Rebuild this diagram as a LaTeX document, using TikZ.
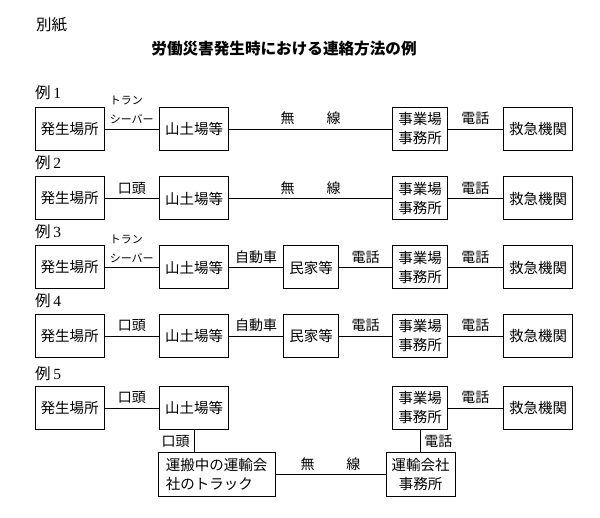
\documentclass[tikz,border=0pt]{standalone}
\usepackage{fontspec}
\setmainfont{Noto Sans CJK JP}
\newfontfamily\digitfont{Liberation Serif}

\begin{document}
\begin{tikzpicture}[x=1pt,y=-1pt,
    main node/.style={draw,line width=1pt,minimum height=43pt,inner xsep=5.5pt,inner ysep=2pt,
      font=\fontsize{14.5}{19}\selectfont,align=center},
    link/.style={line width=0.8pt},
    tag/.style={above,inner sep=3.5pt,font=\fontsize{14}{16}\selectfont},
    small tag/.style={above,inner sep=4.5pt,font=\fontsize{11}{19}\selectfont,align=left},
    head/.style={anchor=west,inner sep=0pt,font=\fontsize{15.5}{18}\selectfont}]

  \useasboundingbox (0,0) rectangle (600,518);

  % Headings
  \node[head] (S) at (36,25) {別紙};
  \node[font=\bfseries\fontsize{15.6}{18}\selectfont] (T) at (284,48.5) {労働災害発生時における連絡方法の例};

  % Example 1
  \node[head] (L1) at (35,93) {例\,{\digitfont 1}};
  \node[main node] (A1) at (69.5,129) {発生場所};
  \node[main node] (B1) at (194,129) {山土場等};
  \node[main node] (D1) at (420,129) {事業場\\事務所};
  \node[main node] (E1) at (538,129) {救急機関};
  \path[link]
    (A1) edge node[small tag] {トラン\\シーバー} (B1)
    (B1) edge node[tag] {無\hspace{32pt}線} (D1)
    (D1) edge node[tag] {電話} (E1);

  % Example 2
  \node[head] (L2) at (35,162.5) {例\,{\digitfont 2}};
  \node[main node] (A2) at (69.5,198.5) {発生場所};
  \node[main node] (B2) at (194,198.5) {山土場等};
  \node[main node] (D2) at (420,198.5) {事業場\\事務所};
  \node[main node] (E2) at (538,198.5) {救急機関};
  \path[link]
    (A2) edge node[tag] {口頭} (B2)
    (B2) edge node[tag] {無\hspace{32pt}線} (D2)
    (D2) edge node[tag] {電話} (E2);

  % Example 3
  \node[head] (L3) at (35,231.5) {例\,{\digitfont 3}};
  \node[main node] (A3) at (69.5,267.5) {発生場所};
  \node[main node] (B3) at (194,267.5) {山土場等};
  \node[main node] (C3) at (311,267.5) {民家等};
  \node[main node] (D3) at (420,267.5) {事業場\\事務所};
  \node[main node] (E3) at (538,267.5) {救急機関};
  \path[link]
    (A3) edge node[small tag] {トラン\\シーバー} (B3)
    (B3) edge node[tag] {自動車} (C3)
    (C3) edge node[tag] {電話} (D3)
    (D3) edge node[tag] {電話} (E3);

  % Example 4
  \node[head] (L4) at (35,301) {例\,{\digitfont 4}};
  \node[main node] (A4) at (69.5,336) {発生場所};
  \node[main node] (B4) at (194,336) {山土場等};
  \node[main node] (C4) at (311,336) {民家等};
  \node[main node] (D4) at (420,336) {事業場\\事務所};
  \node[main node] (E4) at (538,336) {救急機関};
  \path[link]
    (A4) edge node[tag] {口頭} (B4)
    (B4) edge node[tag] {自動車} (C4)
    (C4) edge node[tag] {電話} (D4)
    (D4) edge node[tag] {電話} (E4);

  % Example 5
  \node[head] (L5) at (35,373.5) {例\,{\digitfont 5}};
  \node[main node] (A5) at (69.5,408) {発生場所};
  \node[main node] (B5) at (194,408) {山土場等};
  \node[main node] (D5) at (420,408) {事業場\\事務所};
  \node[main node] (E5) at (538,408) {救急機関};
  \node[main node,align=left,minimum width=117pt] (T5) at (216.5,474.5) {運搬中の運輸会\\社のトラック};
  \node[main node] (U5) at (420.5,474.5) {運輸会社\\事務所};
  \path[link]
    (A5) edge node[tag] {口頭} (B5)
    (D5) edge node[tag] {電話} (E5)
    (T5) edge node[tag] {無\hspace{32pt}線} (U5);
  \draw[link] (B5) -- node[left,inner sep=4pt,font=\fontsize{14}{16}\selectfont] {口頭} (B5 |- T5.north);
  \draw[link] (D5) -- node[right,inner sep=4pt,font=\fontsize{14}{16}\selectfont] {電話} (D5 |- U5.north);
\end{tikzpicture}
\end{document}
